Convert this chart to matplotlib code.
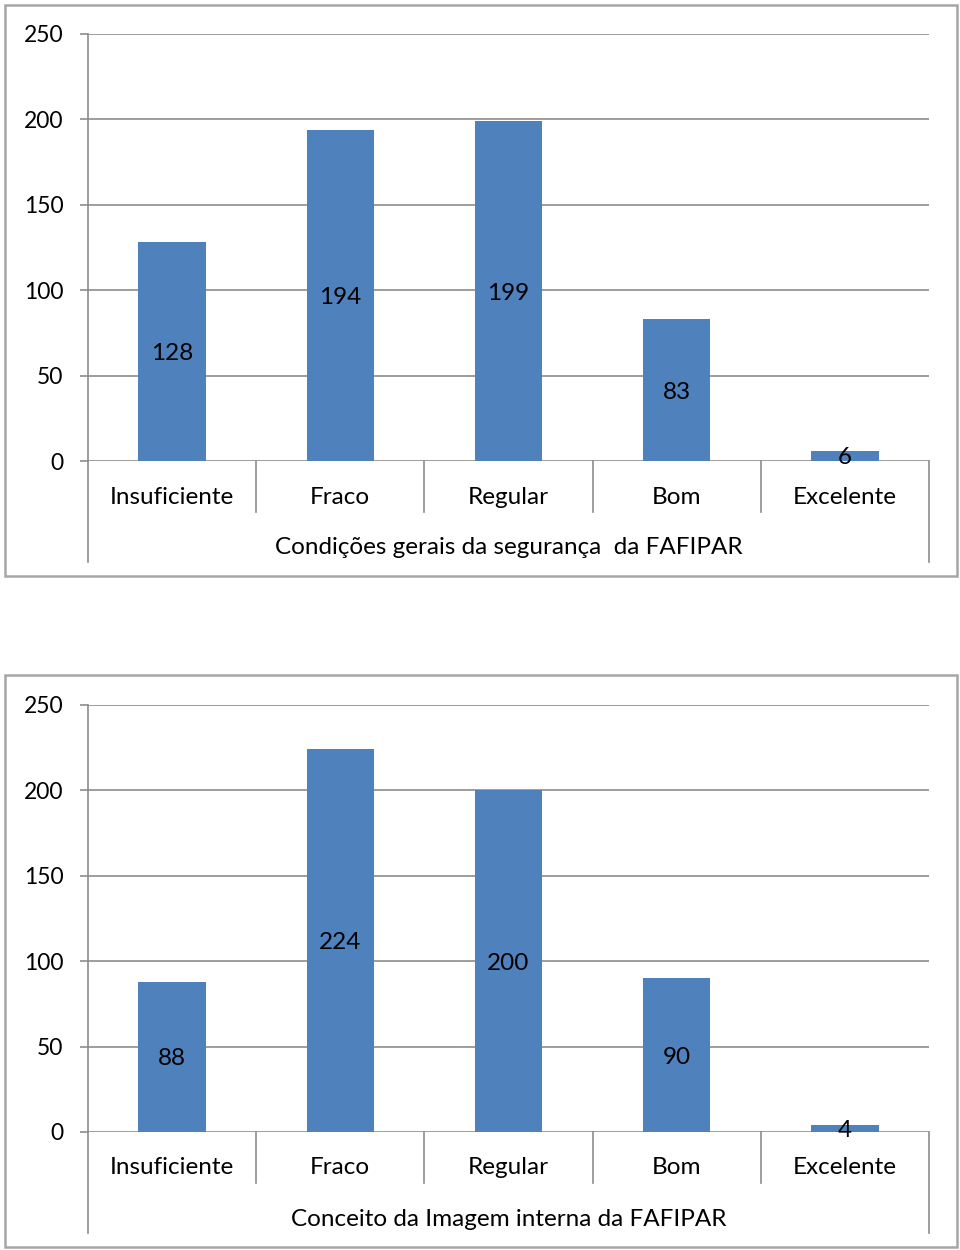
import matplotlib
matplotlib.use("Agg")
import matplotlib.pyplot as plt
from matplotlib.patches import Rectangle
from matplotlib.transforms import offset_copy

plt.rcParams['font.family'] = ['Lato', 'DejaVu Sans']

categories = ["Insuficiente", "Fraco", "Regular", "Bom", "Excelente"]
values_seguranca = [128, 194, 199, 83, 6]
values_imagem = [88, 224, 200, 90, 4]
title_seguranca = "Condições gerais da segurança  da FAFIPAR"
title_imagem = "Conceito da Imagem interna da FAFIPAR"
yticks = [0, 50, 100, 150, 200, 250]

W, H = 960, 1250
fig = plt.figure(figsize=(W / 100, H / 100), dpi=100)

BAR = "#4F81BD"
GRID = "#8C8C8C"
BORDER = "#A6A6A6"
FS = 17.5
YFS = 16.5


def px_box(x0, y0, x1, y1):
    return [x0 / W, 1 - y1 / H, (x1 - x0) / W, (y1 - y0) / H]


def draw_chart(box, plot, vals, title):
    bx0, by0, bx1, by1 = box
    fig.patches.append(Rectangle((bx0 / W, 1 - by1 / H), (bx1 - bx0) / W, (by1 - by0) / H,
                                 transform=fig.transFigure, fill=False,
                                 edgecolor=BORDER, lw=1.8))
    px0, py0, px1, py1 = plot
    ph = py1 - py0
    ax = fig.add_axes(px_box(px0, py0, px1, py1))
    ax.set_xlim(-0.5, len(categories) - 0.5)
    ax.set_ylim(0, 250)
    for s in ax.spines.values():
        s.set_visible(False)
    ax.spines['left'].set_visible(True)
    ax.spines['left'].set_color(GRID)
    ax.spines['left'].set_linewidth(1.2)
    ax.set_yticks(yticks)
    ax.set_yticklabels([str(t) for t in yticks], fontsize=YFS)
    ax.tick_params(axis='y', length=5.8, width=1.2, color=GRID, pad=12)
    ax.set_xticks([])
    ax.yaxis.grid(True, color=GRID, lw=1.2)
    ax.set_axisbelow(True)
    ax.bar(range(len(categories)), vals, width=0.4, color=BAR, zorder=3)
    dtr = offset_copy(ax.transData, fig=fig, x=0, y=-2, units='dots')
    for i, v in enumerate(vals):
        ax.text(i, v / 2, str(v), transform=dtr, ha='center', va='center',
                fontsize=FS, zorder=4)
    tr = ax.get_xaxis_transform()
    d1 = -51 / ph
    d2 = -101 / ph
    for i in range(1, len(categories)):
        ax.plot([i - 0.5, i - 0.5], [0, d1], transform=tr, color=GRID, lw=1.2, clip_on=False)
    for xe in (-0.5, len(categories) - 0.5):
        ax.plot([xe, xe], [0, d2], transform=tr, color=GRID, lw=1.2, clip_on=False)
    for i, c in enumerate(categories):
        ax.text(i, -36 / ph, c, transform=tr, ha='center', va='center', fontsize=FS)
    ax.text((len(categories) - 1) / 2, -87 / ph, title, transform=tr, ha='center',
            va='center', fontsize=FS)
    return ax


draw_chart((5, 5, 957, 576), (88, 34, 929, 461), values_seguranca, title_seguranca)
draw_chart((5, 675, 957, 1247), (88, 705, 929, 1132), values_imagem, title_imagem)

fig.savefig("out.png", dpi=100, facecolor="white")
